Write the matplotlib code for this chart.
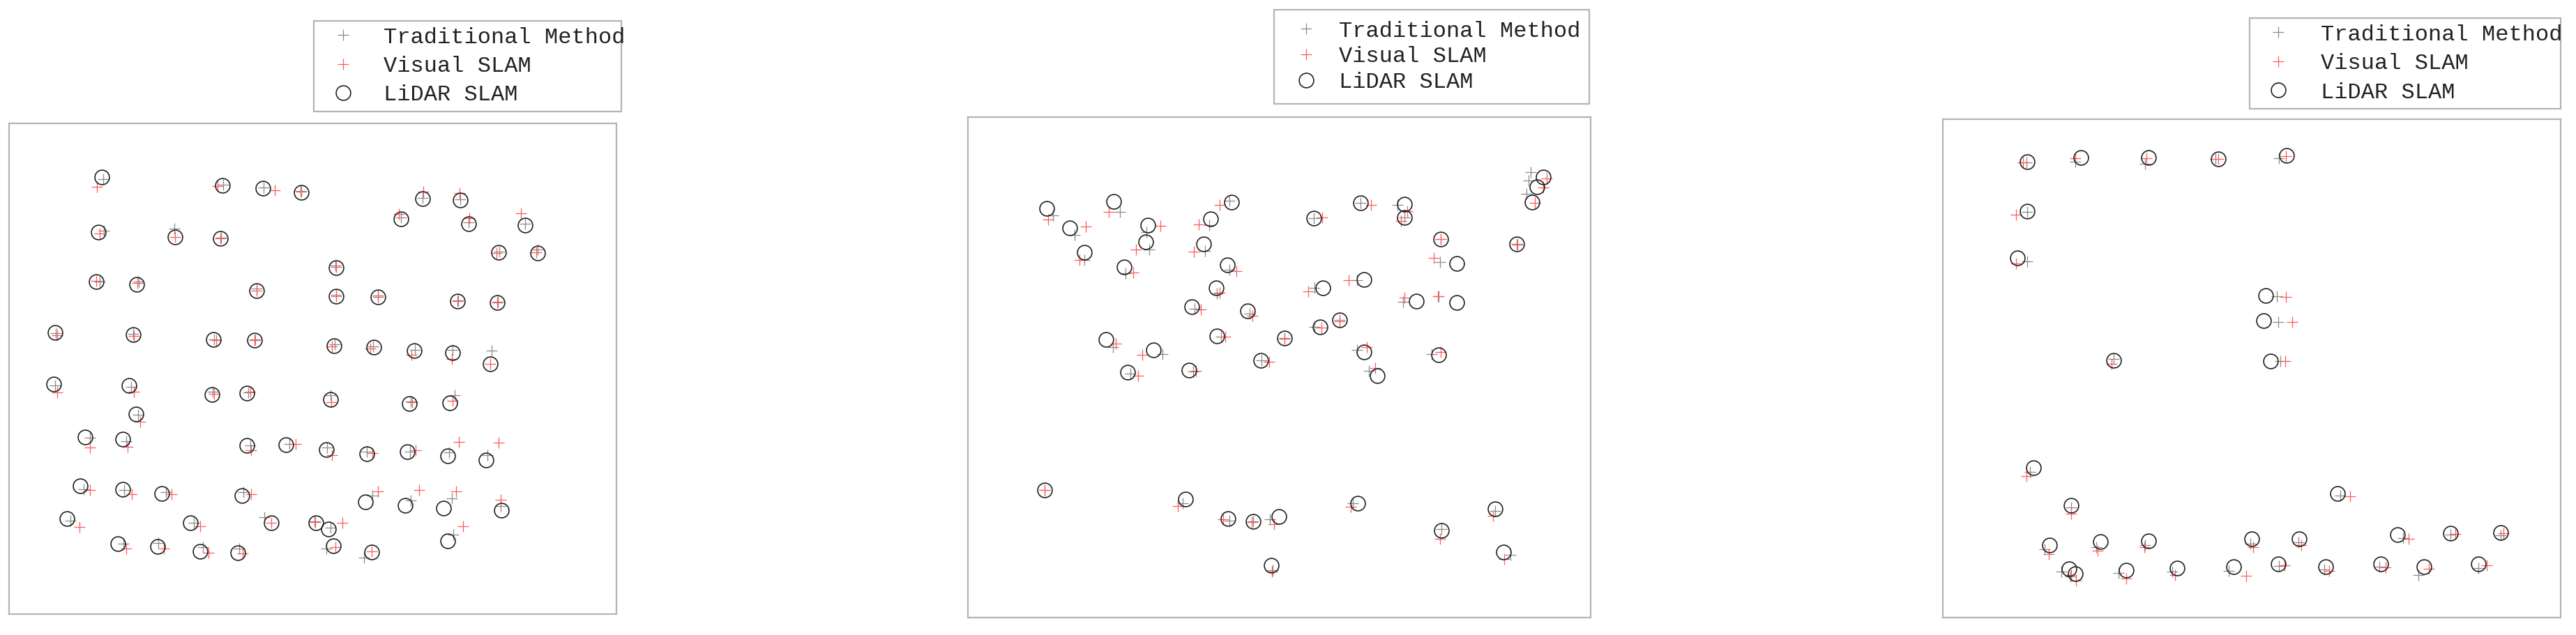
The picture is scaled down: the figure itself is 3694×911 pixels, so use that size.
import matplotlib
matplotlib.use("Agg")
import matplotlib.pyplot as plt

# ---------------- data (relative 0-100 coordinates inside each frame) ----------------
labels = ["Traditional Method", "Visual SLAM", "LiDAR SLAM"]

# Panel 1
p1_lidar_x = [15.35, 35.18, 41.77, 48.09, 68.05, 74.31, 64.56, 75.69, 84.98, 14.76,
              27.40, 34.85, 80.63, 87.02, 53.89, 14.36, 21.01, 40.78, 53.89, 60.74,
              73.85, 80.43, 7.58, 20.42, 33.66, 40.45, 53.56, 60.01, 66.73, 72.99,
              79.25, 7.44, 19.83, 33.40, 39.20, 52.90, 65.94, 72.60, 20.95, 12.58,
              18.77, 39.13, 45.65, 52.24, 58.89, 65.61, 72.27, 78.59, 11.73, 18.71,
              25.23, 38.34, 58.70, 65.28, 71.54, 81.09, 9.62, 29.84, 43.15, 50.59,
              52.57, 72.20, 17.98, 24.44, 31.49, 37.68, 53.43, 59.68]
p1_lidar_y = [89.10, 87.39, 86.82, 86.01, 84.69, 84.36, 80.57, 79.52, 79.24, 77.91,
              76.87, 76.54, 73.70, 73.65, 70.57, 67.72, 67.25, 65.92, 64.79, 64.69,
              63.84, 63.51, 57.44, 56.97, 55.92, 55.88, 54.69, 54.45, 53.65, 53.32,
              51.04, 46.87, 46.54, 44.74, 45.02, 43.79, 42.89, 42.99, 40.76, 36.02,
              35.64, 34.41, 34.46, 33.51, 32.70, 33.04, 32.23, 31.38, 26.16, 25.41,
              24.60, 24.17, 22.85, 22.14, 21.61, 21.19, 19.43, 18.58, 18.58, 18.58,
              17.30, 14.88, 14.32, 13.75, 12.75, 12.42, 13.84, 12.66]
p1_visual_x = [14.49, 34.32, 43.81, 48.09, 68.25, 74.18, 64.23, 75.76, 84.32, 15.02,
               27.40, 34.85, 80.24, 86.83, 53.89, 14.36, 21.21, 40.78, 53.89, 60.74,
               73.85, 80.43, 7.97, 20.62, 34.12, 40.45, 53.23, 59.49, 66.27, 72.86,
               79.25, 7.91, 20.62, 33.79, 39.72, 53.10, 66.40, 72.99, 21.61, 13.37,
               19.50, 39.92, 47.17, 53.23, 59.82, 66.93, 74.11, 80.57, 13.37, 20.29,
               26.75, 39.92, 60.80, 67.52, 73.65, 80.90, 11.59, 31.49, 43.15, 50.46,
               54.87, 74.77, 19.30, 25.56, 32.81, 38.47, 53.75, 59.68]
p1_visual_y = [87.06, 87.20, 86.44, 86.11, 86.11, 85.78, 81.61, 80.66, 81.70, 77.58,
               76.87, 76.54, 73.55, 73.79, 70.80, 67.87, 67.49, 65.92, 64.79, 64.69,
               63.84, 63.51, 56.87, 56.73, 55.78, 55.88, 54.60, 54.12, 52.80, 51.99,
               51.04, 45.21, 45.36, 44.88, 45.36, 43.22, 43.13, 43.46, 39.20, 33.98,
               34.12, 33.37, 34.60, 32.32, 32.80, 33.37, 35.03, 34.93, 25.31, 24.36,
               24.36, 24.36, 24.98, 25.22, 24.98, 23.32, 17.73, 17.87, 18.58, 18.68,
               18.58, 17.82, 13.37, 13.37, 12.42, 12.33, 13.61, 12.80]
p1_trad_x = [15.55, 35.30, 41.90, 48.00, 68.10, 74.30, 64.50, 75.70, 85.00, 15.68,
             27.27, 34.90, 80.70, 87.00, 53.80, 15.00, 21.40, 40.80, 53.90, 60.80,
             73.90, 80.50, 7.70, 20.50, 33.80, 40.60, 53.60, 60.00, 66.80, 73.00,
             79.45, 7.60, 20.10, 33.50, 39.40, 53.00, 66.10, 73.32, 21.30, 13.40,
             19.30, 39.80, 46.20, 52.40, 58.90, 66.00, 72.50, 78.80, 12.30, 19.00,
             25.90, 38.60, 59.80, 66.10, 72.90, 81.00, 10.20, 30.40, 42.03, 50.30,
             53.00, 73.20, 18.90, 24.60, 32.00, 37.90, 52.24, 58.50]
p1_trad_y = [88.62, 87.50, 86.90, 86.30, 84.90, 84.60, 80.90, 79.80, 79.50, 78.20,
             78.53, 76.70, 73.90, 74.30, 71.00, 67.80, 67.70, 66.30, 65.00, 64.90,
             64.00, 63.70, 57.20, 57.10, 56.00, 56.00, 55.00, 54.60, 53.80, 53.90,
             53.65, 46.60, 46.30, 45.30, 45.20, 44.60, 43.30, 44.64, 40.60, 35.90,
             35.20, 34.40, 34.60, 33.90, 33.10, 33.10, 33.00, 32.40, 25.40, 25.30,
             24.90, 24.90, 24.10, 23.20, 23.60, 22.00, 19.00, 18.60, 19.77, 18.80,
             17.60, 16.20, 14.30, 14.50, 13.60, 13.30, 13.37, 11.47]

# Panel 2
p2_lidar_x = [12.61, 23.46, 42.30, 16.31, 28.85, 38.92, 63.09, 70.11, 55.49, 70.11,
              92.33, 91.36, 90.58, 18.71, 28.52, 37.88, 75.89, 88.11, 25.08, 41.65,
              78.49, 39.90, 57.05, 63.55, 35.93, 44.90, 72.06, 78.49, 22.16, 40.03,
              50.88, 56.60, 59.71, 29.82, 46.98, 63.61, 75.57, 25.60, 35.48, 65.69,
              12.28, 34.89, 41.78, 45.81, 49.97, 62.57, 84.67, 76.09, 85.96, 48.73]
p2_lidar_y = [81.79, 83.14, 83.04, 77.93, 78.49, 79.70, 82.90, 82.67, 79.79, 80.02,
              88.06, 86.06, 83.04, 72.97, 75.15, 74.68, 75.61, 74.68, 70.13, 70.50,
              70.74, 65.86, 65.95, 67.62, 62.14, 61.35, 63.30, 62.98, 55.64, 56.34,
              55.87, 58.10, 59.45, 53.46, 51.37, 53.09, 52.48, 49.05, 49.51, 48.35,
              25.45, 23.69, 19.74, 19.18, 20.25, 22.80, 21.74, 17.46, 13.05, 10.45]
p2_visual_x = [12.87, 22.61, 40.48, 18.91, 30.93, 37.10, 64.72, 70.57, 56.92, 69.59,
               92.98, 92.33, 91.03, 17.93, 27.03, 36.26, 75.89, 88.24, 26.58, 43.08,
               74.79, 40.48, 54.65, 61.14, 37.43, 45.68, 70.11, 75.44, 23.78, 41.33,
               50.88, 56.79, 59.71, 28.00, 48.34, 64.07, 75.96, 27.36, 36.65, 65.37,
               12.28, 33.72, 40.94, 45.55, 49.12, 61.47, 84.34, 75.76, 86.16, 48.86]
p2_visual_y = [79.56, 81.09, 82.49, 78.17, 78.31, 78.63, 82.49, 81.19, 79.93, 79.33,
               87.78, 85.97, 82.95, 71.43, 73.52, 73.20, 75.61, 74.54, 69.02, 69.20,
               71.90, 64.93, 65.16, 67.39, 61.54, 60.29, 64.00, 64.23, 54.80, 56.20,
               55.73, 57.96, 59.26, 52.48, 51.09, 54.02, 53.09, 48.30, 49.37, 49.84,
               25.54, 22.29, 19.65, 19.04, 18.72, 22.20, 20.34, 15.70, 11.75, 9.20]
p2_trad_x = [13.71, 24.43, 41.98, 17.15, 28.66, 38.73, 63.09, 68.94, 55.49, 70.11,
             90.38, 90.06, 89.73, 18.71, 29.11, 38.08, 75.89, 88.11, 25.28, 41.98,
             75.76, 40.03, 55.62, 62.44, 36.45, 45.22, 69.92, 75.63, 23.26, 40.68,
             50.88, 55.62, 59.71, 31.25, 47.17, 62.44, 74.46, 26.06, 36.13, 64.39,
             12.28, 34.50, 41.98, 45.81, 48.47, 61.79, 84.67, 76.09, 87.13, 48.99]
p2_trad_y = [80.35, 81.09, 83.28, 76.54, 77.01, 78.40, 82.90, 82.49, 79.79, 80.02,
             89.08, 87.36, 84.67, 71.52, 73.52, 73.29, 75.61, 74.68, 68.88, 69.48,
             71.11, 64.84, 65.86, 67.39, 61.68, 60.75, 63.16, 64.23, 54.02, 56.20,
             55.87, 58.10, 59.45, 52.62, 51.46, 53.55, 52.62, 48.70, 49.20, 49.37,
             25.45, 22.90, 19.41, 19.18, 19.65, 22.89, 21.27, 17.65, 12.54, 9.43]

# Panel 3
p3_lidar_x = [13.71, 22.36, 33.33, 44.58, 55.62, 13.64, 12.04, 52.30, 51.96, 27.68,
              53.09, 14.64, 20.83, 63.94, 17.30, 25.48, 33.33, 49.97, 57.75, 73.59,
              82.17, 90.35, 20.49, 21.49, 29.67, 37.99, 47.11, 54.29, 61.94, 70.93,
              77.91, 86.69]
p3_lidar_y = [91.48, 92.27, 92.27, 91.94, 92.64, 81.55, 72.14, 64.59, 59.56, 51.63,
              51.40, 30.06, 22.51, 24.93, 14.49, 15.28, 15.42, 15.75, 15.84, 16.59,
              16.92, 17.01, 9.79, 8.76, 9.46, 9.93, 10.16, 10.76, 10.25, 10.72,
              10.25, 10.72]
p3_visual_x = [12.97, 21.49, 32.93, 44.58, 55.56, 11.84, 11.84, 55.56, 56.62, 27.35,
               55.42, 13.51, 20.83, 65.94, 17.17, 25.02, 32.67, 50.30, 58.08, 75.38,
               83.03, 90.82, 20.83, 21.62, 29.67, 37.59, 49.10, 55.29, 62.61, 71.72,
               78.71, 88.02]
p3_visual_y = [91.34, 92.08, 92.08, 92.01, 92.55, 80.76, 70.97, 64.36, 59.23, 50.93,
               51.40, 28.43, 20.88, 24.37, 12.72, 13.42, 14.12, 14.12, 14.59, 15.84,
               16.82, 16.92, 8.53, 7.36, 7.83, 8.53, 8.39, 10.53, 9.32, 10.07,
               9.79, 10.49]
p3_trad_x = [13.51, 21.49, 32.80, 44.11, 54.42, 13.64, 13.64, 54.09, 54.29, 27.68,
             54.62, 14.17, 20.83, 64.40, 16.50, 24.82, 32.80, 49.77, 57.62, 74.58,
             82.17, 90.35, 19.16, 20.69, 28.48, 37.13, 46.24, 54.42, 61.74, 70.73,
             77.05, 86.69]
p3_trad_y = [91.25, 91.48, 91.01, 91.94, 92.08, 81.36, 71.44, 64.45, 59.32, 51.87,
             51.40, 29.27, 22.04, 24.51, 13.65, 14.12, 14.59, 14.82, 15.05, 15.98,
             16.68, 16.45, 9.23, 8.29, 8.99, 9.23, 9.32, 10.39, 9.69, 10.16,
             8.53, 9.93]

panels = [
    (p1_trad_x, p1_trad_y, p1_visual_x, p1_visual_y, p1_lidar_x, p1_lidar_y),
    (p2_trad_x, p2_trad_y, p2_visual_x, p2_visual_y, p2_lidar_x, p2_lidar_y),
    (p3_trad_x, p3_trad_y, p3_visual_x, p3_visual_y, p3_lidar_x, p3_lidar_y),
]

# ---------------- layout (pixels of the 3694x911 canvas) ----------------
W, H = 3694, 911
# frame: left, right, top, bottom
frames = [(12.6, 884, 177.3, 880.7), (1388, 2281, 168.3, 886), (2786, 3671.6, 170.7, 886)]
# legend box: left, right, top
legboxes = [(450, 891, 30), (1827, 2279, 14), (3226, 3672, 26)]
# legend styling per panel: borderpad, labelspacing, handlelength, handletextpad
legstyle = [(0.27, 0.35, 2.08, 0.79), (0.49, 0.21, 1.91, 0.52), (0.27, 0.36, 2.04, 0.89)]

FRAME_C = "#b4b4b4"
TRAD_C = "#8a8a8a"
VIS_C = "#ff5a5a"
LIDAR_C = "#222222"

plt.rcParams["font.family"] = ["Liberation Mono", "DejaVu Sans Mono"]

fig = plt.figure(figsize=(W / 100, H / 100), dpi=100)

for (tx, ty, vx, vy, lx, ly), (l, r, t, b), (gl, gr, gt), (bp, ls, hl, htp) in zip(
        panels, frames, legboxes, legstyle):
    ax = fig.add_axes([l / W, 1 - b / H, (r - l) / W, (b - t) / H])
    ax.set_xlim(0, 100)
    ax.set_ylim(0, 100)
    ax.set_xticks([])
    ax.set_yticks([])
    for sp in ax.spines.values():
        sp.set_color(FRAME_C)
        sp.set_linewidth(1.6)
    h1, = ax.plot(tx, ty, linestyle="none", marker="+", ms=11, mew=0.9, color=TRAD_C)
    h2, = ax.plot(vx, vy, linestyle="none", marker="+", ms=11, mew=0.9, color=VIS_C)
    h3, = ax.plot(lx, ly, linestyle="none", marker="o", ms=15, mew=1.2,
                  markerfacecolor="none", markeredgecolor=LIDAR_C)
    leg = ax.legend([h1, h2, h3], labels, loc="upper left",
                    bbox_to_anchor=(gl / W, 1 - gt / H, (gr - gl) / W, 0.0),
                    bbox_transform=fig.transFigure, mode="expand",
                    borderaxespad=0, fontsize=23, frameon=True, fancybox=False,
                    edgecolor=FRAME_C, framealpha=1, borderpad=bp,
                    handlelength=hl, handletextpad=htp, labelspacing=ls,
                    markerscale=1.0)
    leg.get_frame().set_linewidth(1.6)
    for txt in leg.get_texts():
        txt.set_color("#222222")

fig.savefig("out.png", dpi=100)
